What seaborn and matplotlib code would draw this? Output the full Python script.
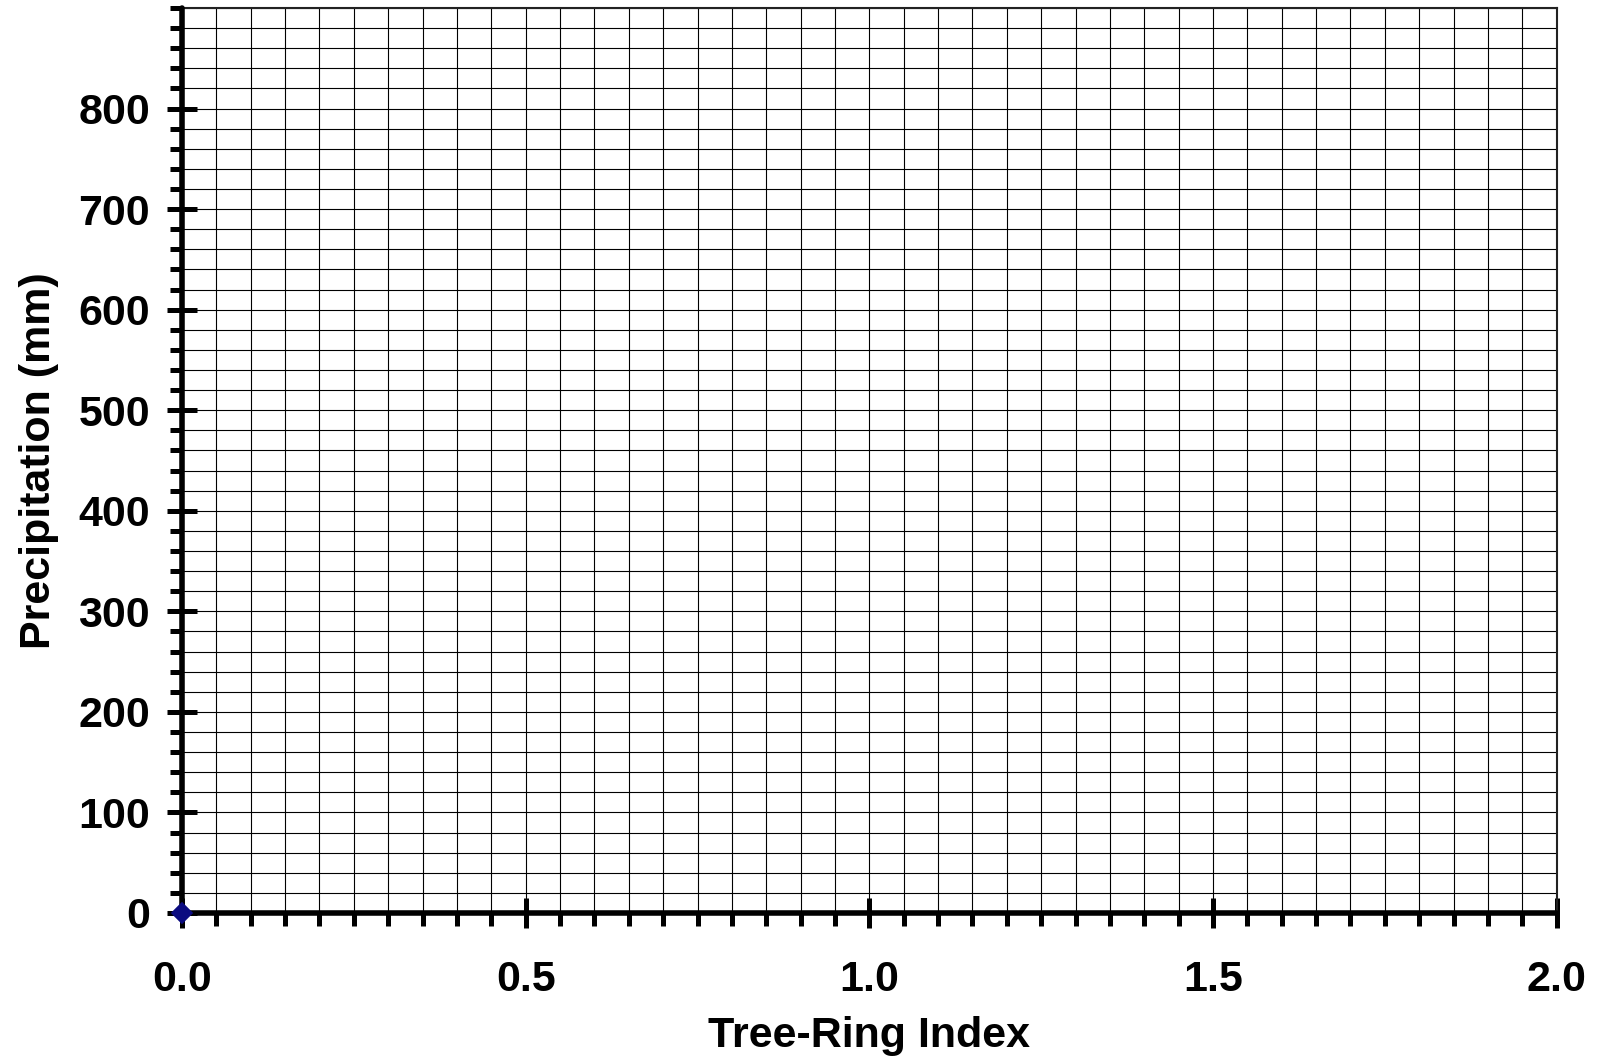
import numpy as np
import pandas as pd
import matplotlib
matplotlib.use('Agg')
import matplotlib.pyplot as plt
import seaborn as sns
from matplotlib.ticker import MultipleLocator

# data (single point at the origin)
ring_index = [0.0]
precip = [0.0]

x_major = [0.0, 0.5, 1.0, 1.5, 2.0]
x_labels = ['0.0', '0.5', '1.0', '1.5', '2.0']
y_major = [0, 100, 200, 300, 400, 500, 600, 700, 800]
y_labels = ['0', '100', '200', '300', '400', '500', '600', '700', '800']

df = pd.DataFrame({'Tree-Ring Index': ring_index, 'Precipitation (mm)': precip})

sns.set_style('white')
plt.rcParams['font.family'] = ['Liberation Sans', 'DejaVu Sans']
plt.rcParams['font.weight'] = 'bold'
plt.rcParams['text.color'] = 'black'
plt.rcParams['axes.labelcolor'] = 'black'
plt.rcParams['xtick.color'] = 'black'
plt.rcParams['ytick.color'] = 'black'

fig = plt.figure(figsize=(16.02, 10.61), dpi=100)
ax = fig.add_axes([182 / 1602, 1 - 913 / 1061, (1556.7 - 182) / 1602, (913 - 8) / 1061])

sns.scatterplot(data=df, x='Tree-Ring Index', y='Precipitation (mm)', marker='D',
                color='#0b0b80', s=130, edgecolor='none', zorder=10, clip_on=False, ax=ax)

ax.set_xlim(0, 2.0)
ax.set_ylim(0, 900)

# graph-paper grid
ax.xaxis.set_minor_locator(MultipleLocator(0.05))
ax.yaxis.set_minor_locator(MultipleLocator(20))
ax.set_xticks(x_major)
ax.set_xticklabels(x_labels)
ax.set_yticks(y_major)
ax.set_yticklabels(y_labels)
ax.grid(which='both', color='black', linewidth=0.8)
ax.set_axisbelow(True)

for s in ['left', 'bottom']:
    ax.spines[s].set_linewidth(4)
    ax.spines[s].set_color('black')
    ax.spines[s].set_capstyle('round')
    ax.spines[s].set_zorder(5)
for s in ['top', 'right']:
    ax.spines[s].set_linewidth(1.5)
    ax.spines[s].set_color('#222222')

ax.tick_params(which='major', direction='inout', length=22, width=3.6, color='black',
               labelcolor='black', labelsize=31, bottom=True, left=True)
ax.tick_params(axis='x', which='major', pad=23)
ax.tick_params(axis='y', which='major', pad=12)
ax.tick_params(which='minor', direction='out', length=9, width=3.6, color='black',
               bottom=True, left=True)

ax.set_xlabel('Tree-Ring Index', fontsize=31, fontweight='bold', color='black', labelpad=11)
ax.set_ylabel('Precipitation (mm)', fontsize=31, fontweight='bold', color='black', labelpad=14)

plt.savefig('out.png', dpi=100)
